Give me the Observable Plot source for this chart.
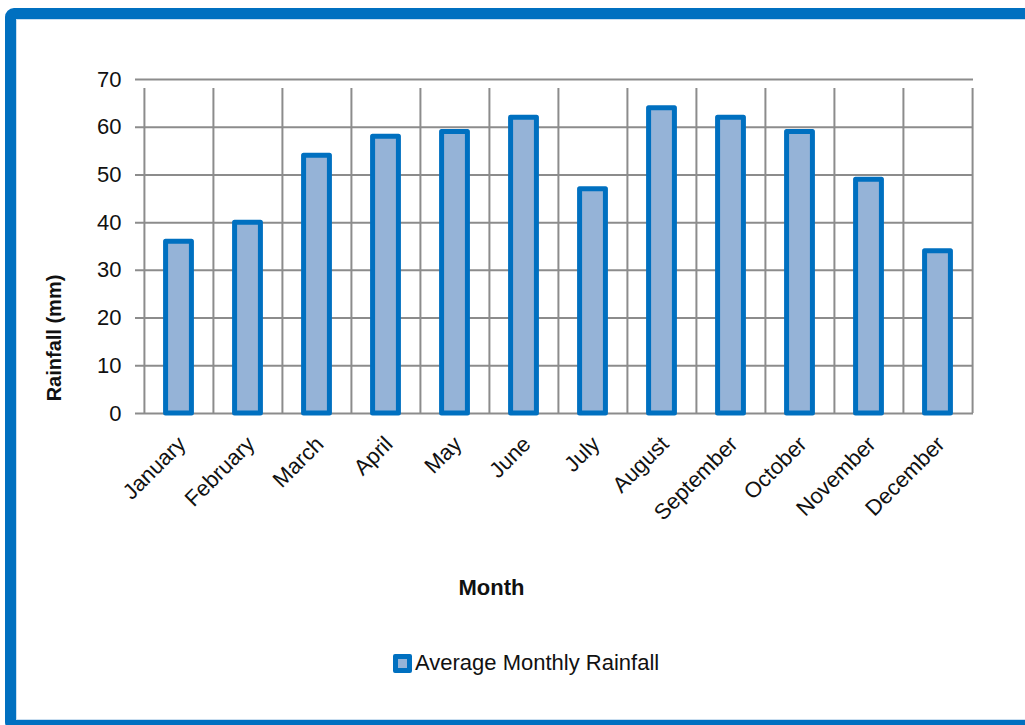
<!DOCTYPE html>
<html>
<head>
<meta charset="utf-8">
<script src="https://cdn.jsdelivr.net/npm/d3@7"></script>
<script src="https://cdn.jsdelivr.net/npm/@observablehq/plot@0.6"></script>
<style>
  html, body { margin: 0; padding: 0; background: #fff; overflow: hidden; }
  body { width: 1025px; height: 725px; position: relative; }
  .frame {
    position: absolute; left: 5px; top: 8px; width: 1100px; height: 723px;
    box-sizing: border-box; border: 11px solid #0070C0; border-radius: 9px;
    box-shadow: inset 0 0 0 1px #c9def0;
  }
  #chart { position: absolute; left: 0; top: 0; }
  .ylabel {
    position: absolute; left: 54px; top: 338px; transform: translate(-50%, -50%) rotate(-90deg);
    white-space: nowrap; font-family: "Liberation Sans Narrow", "Liberation Sans", Arial, sans-serif;
    font-weight: bold; font-size: 20px; color: #111;
  }
  .legend {
    position: absolute; left: 393px; top: 650px; display: flex; align-items: center;
    font-family: "Liberation Sans Narrow", "Liberation Sans", Arial, sans-serif; font-size: 22px; color: #111;
  }
  .swatch {
    width: 19px; height: 19px; box-sizing: border-box; border: 5px solid #0070C0;
    background: #95B3D7; border-radius: 2px; margin-right: 3px;
  }
</style>
</head>
<body>
<div class="frame"></div>
<div id="chart"></div>
<div class="ylabel">Rainfall (mm)</div>
<div class="legend"><span class="swatch"></span><span>Average Monthly Rainfall</span></div>
<script>
// Average monthly rainfall (mm)
const months = ["January", "February", "March", "April", "May", "June",
                "July", "August", "September", "October", "November", "December"];
const rainfall = [36, 40, 54, 58, 59, 62, 47, 64, 62, 59, 49, 34];
const yTicks = [0, 10, 20, 30, 40, 50, 60, 70];

const data = months.map((m, i) => ({month: m, rain: rainfall[i]}));

const font = `"Liberation Sans Narrow", "Liberation Sans", Arial, sans-serif`;
const grid = "#8c8c8c";
const width = 1025, marginLeft = 143, marginRight = 52;
const step = (width - marginLeft - marginRight) / months.length;

const chart = Plot.plot({
  width,
  height: 620,
  marginLeft,
  marginRight,
  marginTop: 79,
  marginBottom: 207,
  style: {fontFamily: font, fontSize: "22px", color: "#111", background: "transparent", overflow: "visible"},
  x: {domain: months, padding: 0},
  y: {domain: [0, 70], ticks: yTicks},
  marks: [
    // horizontal gridlines with short left ticks
    Plot.ruleY(yTicks, {stroke: grid, strokeWidth: 2, insetLeft: -8}),
    // category boundary gridlines with ticks below the baseline
    Plot.ruleX(months, {x: d => d, dx: -step / 2, y1: 0, y2: 70, stroke: grid, strokeWidth: 2, insetBottom: -9}),
    Plot.ruleX([months[months.length - 1]], {x: d => d, dx: step / 2, y1: 0, y2: 70, stroke: grid, strokeWidth: 2, insetBottom: -9}),
    Plot.barY(data, {
      x: "month", y: "rain",
      fill: "#95B3D7", stroke: "#0070C0", strokeWidth: 5, strokeLinejoin: "round",
      insetLeft: (step - 26) / 2, insetRight: (step - 26) / 2
    }),
    Plot.axisY({ticks: yTicks, tickSize: 0, tickPadding: 22, label: null, fontSize: 22}),
    Plot.axisX({tickSize: 0, tickPadding: 27, tickRotate: -45, label: null, fontSize: 22, dx: 3}),
    Plot.text(["Month"], {frameAnchor: "bottom", lineAnchor: "middle", dx: -67, dy: 174,
      fontWeight: "bold", fontSize: 22})
  ]
});
document.getElementById("chart").append(chart);
</script>
</body>
</html>
